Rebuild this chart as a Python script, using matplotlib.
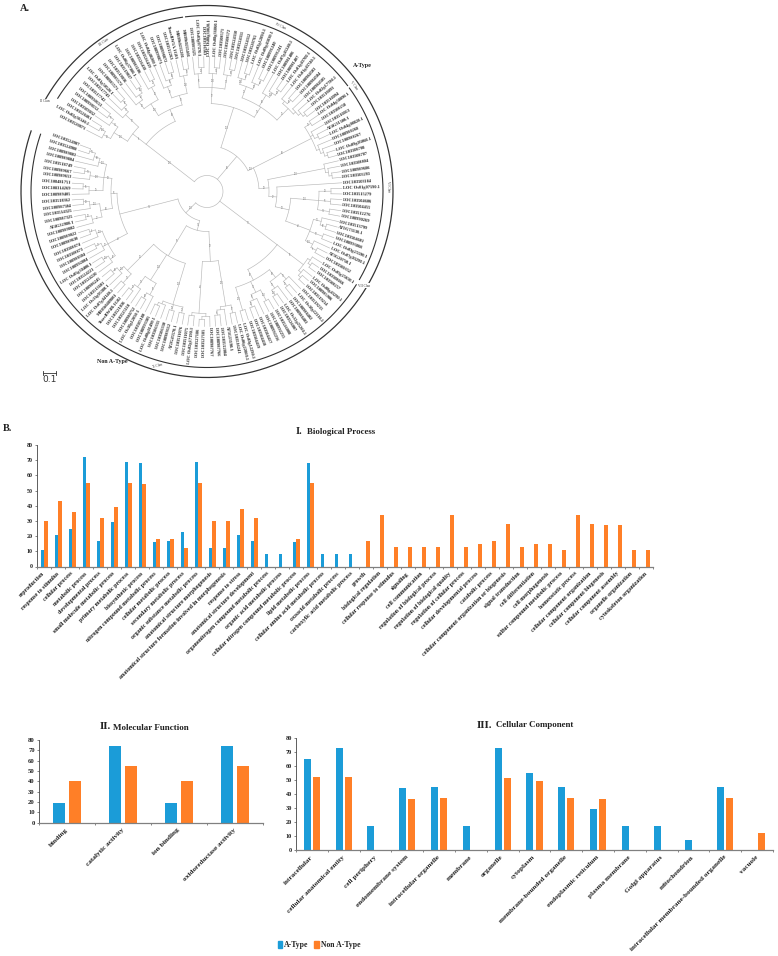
"""Circular gene tree (panel A) and GO term bar charts (panel B)."""

import matplotlib
matplotlib.use("Agg")
import matplotlib.pyplot as plt
import numpy as np
from matplotlib.patches import Patch

plt.rcParams["font.family"] = ["Liberation Serif", "DejaVu Serif"]

WIDTH, HEIGHT = 778, 956
BLUE = "#1B9CD8"
ORANGE = "#FF7F27"
TREE_GREY = "#b8b8b8"

# ── Panel B values ───────────────────────────────────────────────────────────

bp_terms = [
    "reproduction", "response to stimulus", "cellular process", "metabolic process",
    "developmental process", "small molecule metabolic process", "primary metabolic process",
    "biosynthetic process", "nitrogen compound metabolic process", "cellular metabolic process",
    "secondary metabolic process", "organic substance metabolic process",
    "anatomical structure morphogenesis",
    "anatomical structure formation involved in morphogenesis", "response to stress",
    "anatomical structure development", "organonitrogen compound metabolic process",
    "organic acid metabolic process", "cellular nitrogen compound metabolic process",
    "lipid metabolic process", "cellular amino acid metabolic process",
    "oxoacid metabolic process", "carboxylic acid metabolic process", "growth",
    "biological regulation", "cellular response to stimulus", "signaling",
    "cell communication", "regulation of biological process",
    "regulation of biological quality", "regulation of cellular process",
    "cellular developmental process", "catabolic process",
    "cellular component organization or biogenesis", "signal transduction",
    "cell differentiation", "cell morphogenesis", "sulfur compound metabolic process",
    "homeostatic process", "cellular component organization",
    "cellular component biogenesis", "cellular component assembly",
    "organelle organization", "cytoskeleton organization",
]
bp_a_type = [11, 21, 25, 72, 17, 29, 69, 68, 16, 17, 23, 69, 12, 12, 21, 17, 8, 8, 16, 68, 8, 8,
             8, 0, 0, 0, 0, 0, 0, 0, 0, 0, 0, 0, 0, 0, 0, 0, 0, 0, 0, 0, 0, 0]
bp_non_a = [30, 43, 36, 55, 32, 39, 55, 54, 18, 18, 12, 55, 30, 30, 38, 32, 0, 0, 18, 55, 0, 0,
            0, 17, 34, 13, 13, 13, 13, 34, 13, 15, 17, 28, 13, 15, 15, 11, 34, 28, 27, 27, 11, 11]

mf_terms = ["binding", "catalytic activity", "ion binding", "oxidoreductase activity"]
mf_a_type = [19, 74, 19, 74]
mf_non_a = [40, 55, 40, 55]

cc_terms = [
    "intracellular", "cellular anatomical entity", "cell periphery", "endomembrane system",
    "intracellular organelle", "membrane", "organelle", "cytoplasm",
    "membrane-bounded organelle", "endoplasmic reticulum", "plasma membrane",
    "Golgi apparatus", "mitochondrion", "intracellular membrane-bounded organelle", "vacuole",
]
cc_a_type = [65, 73, 17, 44, 45, 17, 73, 55, 45, 29, 17, 17, 7, 45, 0]
cc_non_a = [52, 52, 0, 36, 37, 0, 51, 49, 37, 36, 0, 0, 0, 37, 12]

# ── Panel A values ───────────────────────────────────────────────────────────

# Tip names, clockwise from the upper left.
leaf_names = [
    "LOC103520871", "LOC Os02g36140.1", "LOC103528461", "LOC103509032", "LOC108990152",
    "LOC108990153", "LOC103517742", "LOC103517743", "LOC Os01g50520.1", "LOC108985571",
    "LOC108985572", "LOC103519036", "LOC103519037", "LOC Os06g37300.1", "LOC108983106",
    "LOC103526418", "LOC103526419", "LOC Os04g48200.1", "LOC108998871", "LOC108998872",
    "LOC103512263", "TraesBW1A.1G01", "MH09t0215201", "MH09t0215401",
    "LOC108985325", "LOC Os03g07370.1", "LOC103516563", "LOC Os08g30820.1", "LOC Os08g36860.1",
    "LOC103508571", "LOC103508572", "LOC103524310", "LOC103524311", "LOC103524312",
    "LOC103520765", "LOC Os02g12890.1", "LOC Os09g41030.1", "LOC108991240", "LOC108991241",
    "LOC Os07g41240.1", "LOC108981406", "LOC108981407", "LOC Os01g43700.1", "LOC Os01g43740.1",
    "LOC108984503", "LOC108984504", "LOC108984505", "LOC Os02g17780.1", "LOC103510093",
    "LOC103510094",
    "LOC Os04g58890.1", "LOC103508258", "LOC103510013", "AT4G31500.1", "LOC Os04g08828.1",
    "LOC108988268", "LOC108988267", "LOC Os09g05060.1", "LOC103508708",
    "LOC103508707", "LOC103508804", "LOC108989686", "LOC103503293", "LOC103503184",
    "LOC Os01g07590.1", "LOC103515279", "LOC103504606", "LOC103504455", "LOC103512276",
    "LOC108990269", "LOC103513799", "AT1G73130.1", "LOC103504601", "LOC108993866",
    "LOC Os03g25590.1", "LOC Os07g03290.1", "AT3G20750.1", "LOC103500352",
    "LOC Os05g25650.1", "LOC103508066", "LOC103508257", "LOC Os08g43290.1", "LOC108985906",
    "LOC103519214", "LOC103519215", "LOC Os10g22310.1", "LOC108988402", "LOC108988403",
    "LOC Os12g25200.1", "LOC103526007", "LOC103526008", "LOC108992255", "LOC108992256",
    "LOC103504417", "LOC103504418", "LOC103504419", "LOC Os03g12290.1",
    "LOC Os06g22060.1", "LOC103516241", "AT5G23190.1", "LOC103512084", "LOC108987766",
    "LOC108987767", "LOC103527185", "LOC103527186", "LOC Os02g17190.1", "LOC103511075",
    "LOC103511076", "AT2G45570.1", "LOC108989112", "LOC103506330", "LOC103506331",
    "LOC Os08g01490.1", "LOC108993305", "LOC103505180", "LOC Os10g12050.1", "LOC108980752",
    "LOC103525118", "LOC103521036", "TraesBW4B.1G02", "MH03t0489801", "LOC Os07g44140.1",
    "LOC Os11g05380.1", "LOC103513601",
    "LOC108986245", "LOC103524220", "LOC103524221", "LOC Os05g30400.1", "LOC108992804",
    "LOC108988304", "LOC103508873", "LOC103508874", "LOC108989630", "LOC108989022",
    "LOC108989802", "AT4G32980.1", "LOC108987325", "LOC103514325", "LOC108987504",
    "LOC103518362", "LOC108989405", "LOC108314269", "LOC108481751", "LOC108989653",
    "LOC108989667", "LOC103518749", "LOC108989804", "LOC108989803", "LOC103524908",
    "LOC103524907",
]

# Tree shape: [radius, children...]. A plain integer child is a ladder of that many tips.
# A tuple (radius, [children]) hangs from its first child's angle, not the middle.
clade_upper_left = (77, [[94, [110, 3, 3], 4], [90, [104, 4, 3], [100, 4, 3]]])
clade_top = [88, [104, 3, 3, 3], [100, [112, 3, 3], [110, 4], [116, 3, 4]]]
clade_right = (52, [[117, 2, 3, 4],
                    [62, [120, 1, 3], [70, 1, [84, [112, 2, 2, 2], [110, 3, 2, 3]]]]])
clade_lower_right = (88, [[121, 3, 3], [100, [110, 3, 3], [112, 2, 3], 2]])
clade_bottom = [40, [70, [116, 2, 3], [122, 3, 2]],
                [75, [118, 2, 2, 3], [105, 3, 3], [112, 2, 3]]]
clade_left = [90, [112, 3, 3, 3], [96, [108, 3, 3], [104, 3, 3, 4]]]
tree_root = [16, clade_upper_left, [46, clade_top, clade_right], clade_lower_right,
             [30, clade_bottom, clade_left]]

support_values = ["100", "98", "76", "54", "100", "87", "33", "92", "61", "100", "45", "99",
                  "72", "28", "100", "83", "66", "95", "50", "100", "39", "88"]

# start angle, end angle of the bracket arcs (deg) and where their clan names sit
inner_arcs = [(148, 98), (97, 37), (36, -30), (-32, -199)]
outer_arcs = [(151, -30.2), (-30.8, -199)]
clan_names = ["II Clan", "III Clan", "IV Clan", "V Clan", "VI Clan", "VII Clan", "X Clan"]
clan_angles = [151, 124.6, 66, 36, 1.5, -31, -106]
clan_radii = [186, 181, 181, 181, 181, 183, 181]
clan_rotations = [0, 35, -24, -54, -88, 0, 15]

LEAF_RADIUS = 136
FIRST_LEAF_ANGLE = 153
LEAF_STEP = 2.37


def pixel_axes(fig, left, top, right, bottom, **kwargs):
    """Add an axes given by its pixel box, measured from the top left of the figure."""
    return fig.add_axes(
        [left / WIDTH, 1 - bottom / HEIGHT, (right - left) / WIDTH, (bottom - top) / HEIGHT],
        **kwargs,
    )


def draw_tree(ax):
    """Draw the tree from tree_root on a polar axes, consuming leaf_names in order."""
    state = {"leaf": 0, "support": 0}

    def arc(radius, a0, a1):
        thetas = np.radians(np.linspace(a0, a1, max(int(abs(a1 - a0)) + 2, 2)))
        ax.plot(thetas, np.full_like(thetas, radius), color=TREE_GREY, lw=0.45)

    def radial(angle, r0, r1):
        ax.plot(np.radians([angle, angle]), [r0, r1], color=TREE_GREY, lw=0.45)

    def leaf(parent_r):
        angle = FIRST_LEAF_ANGLE - state["leaf"] * LEAF_STEP
        name = leaf_names[state["leaf"]]
        state["leaf"] += 1
        radial(angle, parent_r, LEAF_RADIUS - 1)
        wrapped = (angle + 360) % 360
        left_side = 90 < wrapped < 270
        ax.text(np.radians(angle), LEAF_RADIUS, name,
                rotation=wrapped + 180 if left_side else wrapped,
                ha="right" if left_side else "left", va="center",
                rotation_mode="anchor", fontsize=3.2, fontweight="bold", color="#222222")
        return angle

    def ladder(count, parent_r):
        if count == 1:
            return leaf(parent_r)
        radius = max(parent_r + 3, LEAF_RADIUS - 6 * count)
        return build([radius, 1, count - 1], parent_r)

    def build(node, parent_r):
        if isinstance(node, int):
            return ladder(node, parent_r)
        if isinstance(node, tuple):
            radius, children = node
            first_child = True
        else:
            radius, children = node[0], node[1:]
            first_child = False
        angles = [build(child, radius) for child in children]
        arc(radius, angles[0], angles[-1])
        angle = angles[0] if first_child else (angles[0] + angles[-1]) / 2
        radial(angle, parent_r, radius)
        if radius - parent_r > 4:
            ax.text(np.radians(angle), (radius + parent_r) / 2,
                    support_values[state["support"] % len(support_values)],
                    fontsize=1.8, color="#777777", ha="center", va="center")
            state["support"] += 1
        return angle

    radius = tree_root[0]
    angles = [build(child, radius) for child in tree_root[1:]]
    arc(radius, angles[0], angles[-1])
    if state["leaf"] != len(leaf_names):
        raise ValueError(f"tree uses {state['leaf']} tips, names {len(leaf_names)}")

    for a0, a1 in inner_arcs:
        thetas = np.radians(np.linspace(a0, a1, 200))
        ax.plot(thetas, np.full_like(thetas, 176), color="#333333", lw=0.8)
    for a0, a1 in outer_arcs:
        thetas = np.radians(np.linspace(a0, a1, 300))
        ax.plot(thetas, np.full_like(thetas, 186), color="#333333", lw=0.9)
    for name, angle, radius, rot in zip(clan_names, clan_angles, clan_radii, clan_rotations):
        ax.text(np.radians(angle), radius, name, fontsize=2.4, rotation=rot, color="#333333",
                ha="center", va="center",
                bbox=dict(facecolor="white", edgecolor="none", pad=0.2))
    ax.set_ylim(0, 190)
    ax.set_axis_off()


def draw_bars(ax, terms, a_type, non_a, width, offset, font_size, y_font):
    """One GO panel: paired bars per term, ticks between the groups."""
    positions = np.arange(len(terms)) + 0.5
    ax.bar(positions - offset, a_type, width, color=BLUE)
    ax.bar(positions + offset, non_a, width, color=ORANGE)
    ax.set_xlim(0, len(terms))
    ax.set_ylim(0, 80)
    ax.set_yticks(range(0, 81, 10))
    ax.set_xticks(positions)
    ax.set_xticks(np.arange(len(terms) + 1), minor=True)
    ax.tick_params(axis="x", which="major", length=0, pad=4.5)
    ax.tick_params(axis="x", which="minor", length=1.5, width=0.5, color="#555555")
    ax.tick_params(axis="y", length=1.5, width=0.5, pad=1.5, color="#555555")
    ax.set_xticklabels(terms, rotation=45, ha="right", rotation_mode="anchor",
                       fontsize=font_size, fontweight="bold", color="#222222")
    for label in ax.get_xticklabels():
        label.set_verticalalignment("center")
    for label in ax.get_yticklabels():
        label.set_fontsize(y_font)
        label.set_fontweight("bold")
        label.set_color("#222222")
    ax.spines[["top", "right"]].set_visible(False)
    ax.spines["left"].set_linewidth(0.6)
    ax.spines["left"].set_color("#444444")
    ax.spines["bottom"].set_linewidth(0.9)
    ax.spines["bottom"].set_color("#808080")


def main():
    fig = plt.figure(figsize=(WIDTH / 100, HEIGHT / 100), dpi=100)

    tree_ax = pixel_axes(fig, 17, 1.5, 397, 381.5, projection="polar")
    draw_tree(tree_ax)

    ax1 = pixel_axes(fig, 37, 445, 653, 566.5)
    draw_bars(ax1, bp_terms, bp_a_type, bp_non_a, 0.25, 0.125, 4.3, 4.3)

    ax2 = pixel_axes(fig, 39, 740, 263, 822.7)
    draw_bars(ax2, mf_terms, mf_a_type, mf_non_a, 0.227, 0.143, 5.3, 4.8)

    ax3 = pixel_axes(fig, 296, 737.7, 773, 850)
    draw_bars(ax3, cc_terms, cc_a_type, cc_non_a, 0.22, 0.145, 5.2, 4.5)

    # Panel letters, titles and scale bar, placed in picture pixels
    over = fig.add_axes([0, 0, 1, 1], facecolor="none")
    over.set_xlim(0, WIDTH)
    over.set_ylim(HEIGHT, 0)
    over.set_axis_off()
    bold = dict(fontweight="bold", color="#222222", va="center", ha="left")
    over.text(20, 8, "A.", fontsize=7.5, **bold)
    over.text(3, 428.5, "B.", fontsize=7.5, **bold)
    over.text(296, 432, "I.", fontsize=7.5, **bold)
    over.text(307, 432, "Biological Process", fontsize=6.4, **bold)
    over.text(100, 726.5, "II.", fontsize=8, **bold)
    over.text(113, 727.5, "Molecular Function", fontsize=6.5, **bold)
    over.text(477, 725, "III.", fontsize=8, **bold)
    over.text(496, 725, "Cellular Component", fontsize=6.4, **bold)
    over.text(353, 65, "A-Type", fontsize=4.3, **bold)
    over.text(97, 362, "Non A-Type", fontsize=4.3, **bold)

    over.plot([43.5, 56.5], [373, 373], color="#333333", lw=0.6)
    over.plot([43.5, 43.5], [371, 375], color="#333333", lw=0.6)
    over.plot([56.5, 56.5], [371, 375], color="#333333", lw=0.6)
    over.text(50, 379, "0.1", fontsize=6.5, family="DejaVu Sans", color="#333333",
              ha="center", va="center")

    handles = [Patch(color=BLUE, label="A-Type"), Patch(color=ORANGE, label="Non A-Type")]
    legend = fig.legend(handles=handles, loc="center", ncol=2, frameon=False,
                        bbox_to_anchor=(319 / WIDTH, 1 - 945 / HEIGHT),
                        handlelength=0.6, handleheight=0.9, handletextpad=0.25,
                        columnspacing=0.7, prop={"size": 5.6, "weight": "bold"})
    for text in legend.get_texts():
        text.set_color("#222222")

    fig.savefig("out.png", dpi=100)


if __name__ == "__main__":
    main()
